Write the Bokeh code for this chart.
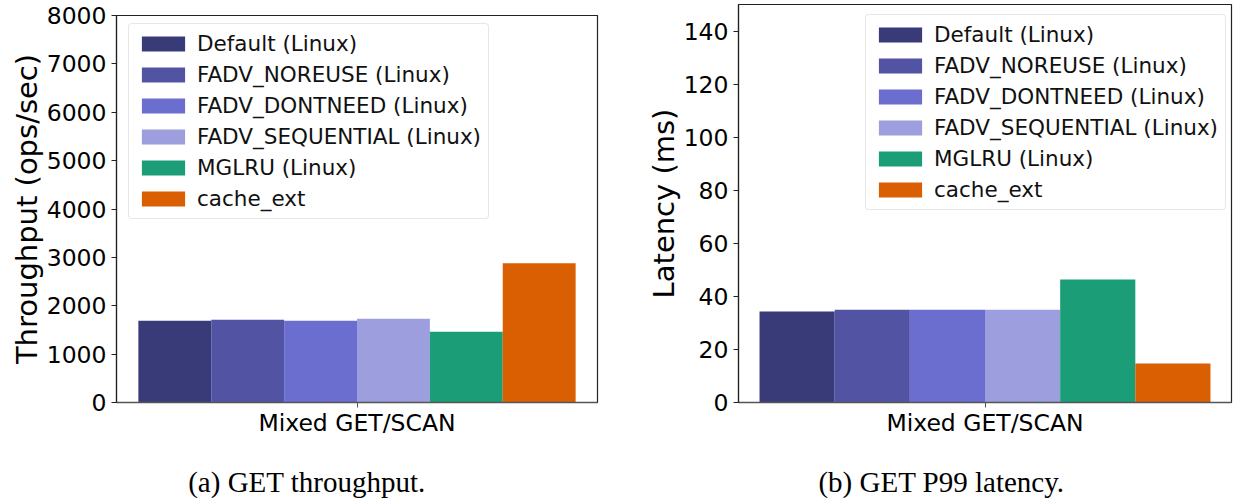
from bokeh.plotting import figure
from bokeh.models import Range1d, FixedTicker, Legend, LegendItem, ColumnDataSource
from bokeh.layouts import row, column
from bokeh.core.properties import value
from bokeh.embed import file_html
from bokeh.resources import INLINE

# ---- data ----
categories = ["Mixed GET/SCAN"]
series = ["Default (Linux)", "FADV_NOREUSE (Linux)", "FADV_DONTNEED (Linux)",
          "FADV_SEQUENTIAL (Linux)", "MGLRU (Linux)", "cache_ext"]
colors = ["#393b79", "#5254a3", "#6b6ecf", "#9c9ede", "#1b9e77", "#d95f02"]
throughput = [1690, 1710, 1690, 1730, 1460, 2880]
latency = [34.3, 35.0, 35.0, 35.0, 46.4, 14.7]
throughput_ticks = [0, 1000, 2000, 3000, 4000, 5000, 6000, 7000, 8000]
latency_ticks = [0, 20, 40, 60, 80, 100, 120, 140]
captions = ["(a) GET throughput.", "(b) GET P99 latency."]
ylabels = ["Throughput (ops/sec)", "Latency (ms)"]

GROUP = 0.8
n = len(series)
bw = GROUP / n
xs = [-GROUP / 2 + bw * (i + 0.5) for i in range(n)]

FONT = "DejaVu Sans"
FRAME_BOTTOM = 402
MAIN_H = 463
CAP_H = 35


def panel(values, ylabel, yend, ticks, width, mbl, mbr, mbt, xr, legend_loc):
    p = figure(width=width, height=MAIN_H, x_range=Range1d(*xr), y_range=Range1d(0, yend),
               output_backend="svg", toolbar_location=None, title=None,
               min_border_left=mbl, min_border_right=mbr, min_border_top=mbt,
               min_border_bottom=MAIN_H - FRAME_BOTTOM)
    p.xgrid.visible = False
    p.ygrid.visible = False
    p.outline_line_color = "#222222"
    p.outline_line_width = 1.2
    p.background_fill_color = "white"
    p.border_fill_color = "white"

    items = []
    for i in range(n):
        src = ColumnDataSource(dict(x=[xs[i]], top=[values[i]]))
        r = p.vbar(x="x", top="top", width=bw, bottom=0, source=src,
                   fill_color=colors[i], line_color=None)
        items.append(LegendItem(label=series[i], renderers=[r]))

    leg = Legend(items=items, location=legend_loc)
    leg.glyph_width = 54
    leg.glyph_height = 19
    leg.label_standoff = 7
    leg.padding = 7
    leg.spacing = 6
    leg.margin = 0
    leg.label_text_font = FONT
    leg.label_text_font_size = "21.5px"
    leg.label_text_color = "#111111"
    leg.border_line_color = "#d0d0d0"
    leg.border_line_width = 1
    leg.background_fill_alpha = 0.8
    if "border_radius" in Legend.properties():
        leg.border_radius = 4
    p.add_layout(leg, "center")

    ya = p.yaxis[0]
    ya.ticker = FixedTicker(ticks=ticks)
    ya.axis_label = ylabel
    ya.axis_label_text_font = FONT
    ya.axis_label_text_font_size = "29px"
    ya.axis_label_text_font_style = "normal"
    ya.axis_label_text_color = "black"
    ya.axis_label_standoff = 0
    ya.major_label_text_font = FONT
    ya.major_label_text_font_size = "23.5px"
    ya.major_label_text_color = "black"
    ya.major_label_standoff = 5
    ya.major_tick_in = 0
    ya.major_tick_out = 5
    ya.minor_tick_line_color = None
    ya.axis_line_color = "#222222"
    ya.axis_line_width = 1.2
    ya.major_tick_line_color = "#222222"

    xa = p.xaxis[0]
    xa.ticker = FixedTicker(ticks=[0])
    xa.major_label_overrides = {0: categories[0]}
    xa.major_label_text_font = FONT
    xa.major_label_text_font_size = "23.5px"
    xa.major_label_text_color = "black"
    xa.major_label_standoff = 1
    xa.major_tick_in = 0
    xa.major_tick_out = 5
    xa.minor_tick_line_color = None
    xa.axis_line_color = "#555555"
    xa.axis_line_width = 1.5
    xa.major_tick_line_color = "#555555"
    return p


p1 = panel(throughput, ylabels[0], 8000, throughput_ticks, 615, 116, 18, 15,
           (-0.44, 0.44), (12, 183))
p2 = panel(latency, ylabels[1], 150, latency_ticks, 620, 123, 4, 4,
           (-0.4373, 0.4373), (127, 192))

# caption strip below both panels
cap = figure(width=1235, height=CAP_H, x_range=Range1d(0, 1235), y_range=Range1d(0, CAP_H),
             x_axis_type=None, y_axis_type=None, output_backend="svg", title=None,
             toolbar_location=None, min_border=0, min_border_left=0, min_border_right=0,
             min_border_top=0, min_border_bottom=0)
cap.grid.visible = False
cap.outline_line_color = None
cap.background_fill_color = "white"
cap.border_fill_color = "white"
cap_x = [306.5, 941]
cap.text(x=cap_x, y=[17, 17], text=captions, text_font=value("Liberation Serif"),
         text_font_size="29px", text_align="center", text_baseline="middle",
         text_color="black")

layout = column(row(column(p1), column(p2)), cap)
open("out.html", "w").write(file_html(layout, INLINE))
